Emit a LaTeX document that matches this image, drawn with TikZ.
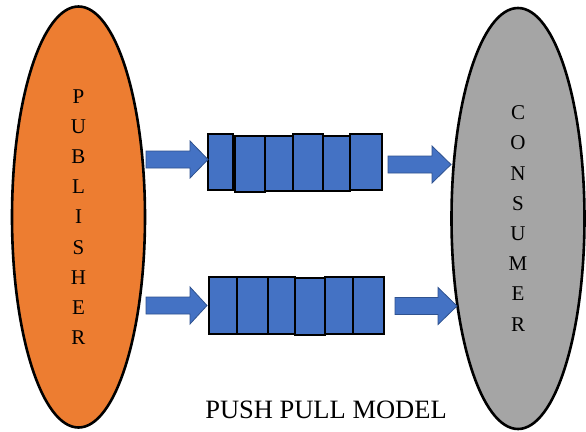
\documentclass[tikz,border=0pt]{standalone}
\usepackage{fontspec}
\setmainfont{Liberation Serif}
\usetikzlibrary{shapes.geometric}
\definecolor{pubor}{HTML}{ED7D31}
\definecolor{congr}{HTML}{A5A5A5}
\definecolor{qblue}{HTML}{4472C4}
\definecolor{qedge}{HTML}{2F528F}
\tikzset{
  actor/.style={ellipse, draw=black, line width=2.6pt, inner sep=0pt, align=center,
    font=\fontsize{21}{30.2}\selectfont},
  cell/.style={draw=black, fill=qblue, line width=2pt, inner sep=0pt, anchor=north west},
  blockarrow/.style={fill=qblue, draw=qedge, line width=0.8pt, line join=miter},
  title/.style={font=\fontsize{26.5}{30}\selectfont, anchor=base, inner sep=0pt}
}
% \barrow{x start}{x head start}{x tip}{y centre}
\newcommand{\barrow}[4]{%
  \path[blockarrow] (#1,#4-8.5) -- (#2,#4-8.5) -- (#2,#4-18.5) -- (#3,#4)
    -- (#2,#4+18.5) -- (#2,#4+8.5) -- (#1,#4+8.5) -- cycle;}
\begin{document}
\begin{tikzpicture}[x=1pt,y=-1pt]
\useasboundingbox[fill=white] (0,0) rectangle (586,431);

\node[actor, fill=pubor, minimum width=133pt, minimum height=421pt] (pub) at (78.5,217)
  {P\\U\\B\\L\\I\\S\\H\\E\\R};
\node[actor, fill=congr, minimum width=133pt, minimum height=421pt] (con) at (518,218.5)
  {C\\O\\N\\S\\U\\M\\E\\R};

% upper queue
\node[cell, minimum width=25pt, minimum height=56pt] (a1) at (207,133) {};
\node[cell, minimum width=30pt, minimum height=56pt] (a2) at (234,135) {};
\node[cell, minimum width=28pt, minimum height=55pt] (a3) at (264,135) {};
\node[cell, minimum width=30pt, minimum height=57pt] (a4) at (292,133) {};
\node[cell, minimum width=27pt, minimum height=55pt] (a5) at (322,135) {};
\node[cell, minimum width=32pt, minimum height=56pt] (a6) at (349,133) {};

% lower queue
\node[cell, minimum width=28pt, minimum height=57pt] (b1) at (208,276) {};
\node[cell, minimum width=31pt, minimum height=57pt] (b2) at (236,276) {};
\node[cell, minimum width=27pt, minimum height=57pt] (b3) at (267,276) {};
\node[cell, minimum width=30pt, minimum height=57pt] (b4) at (294,277) {};
\node[cell, minimum width=28pt, minimum height=57pt] (b5) at (324,276) {};
\node[cell, minimum width=31pt, minimum height=57pt] (b6) at (352,276) {};

% block arrows
\barrow{146}{190}{208}{159.5}
\barrow{388}{432}{451}{164.5}
\barrow{146}{190}{207}{305.5}
\barrow{395}{438}{457}{306}

\node[title] (ttl) at (326,418) {PUSH PULL MODEL};
\end{tikzpicture}
\end{document}
